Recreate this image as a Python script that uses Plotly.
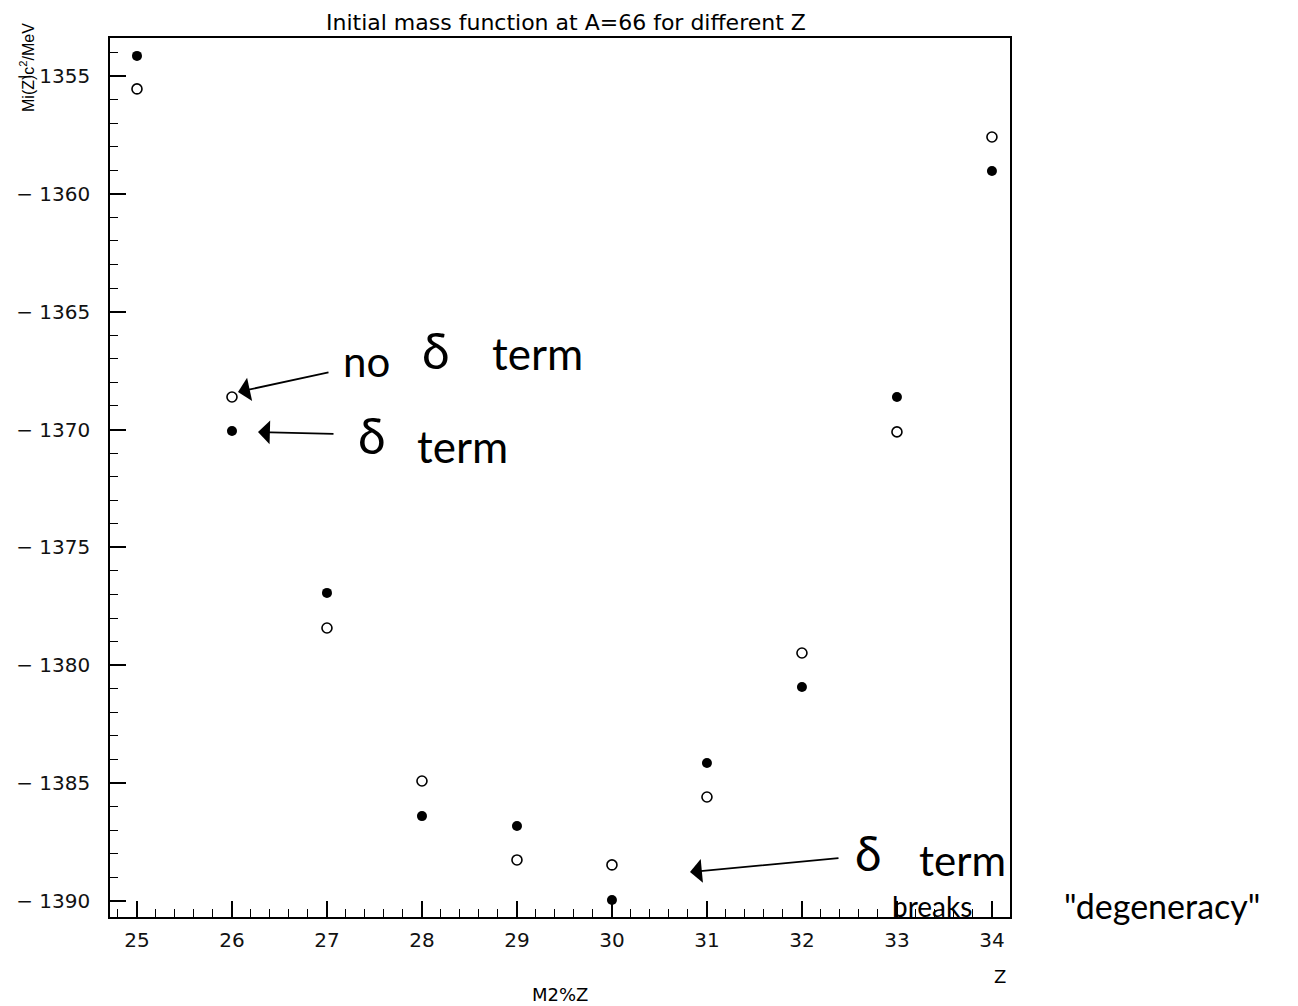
import plotly.graph_objects as go

# ---- data ----
Z = [25, 26, 27, 28, 29, 30, 31, 32, 33, 34]
mass_delta = [-1354.15, -1370.06, -1376.93, -1386.40, -1386.82, -1389.96, -1384.15, -1380.92, -1368.62, -1359.03]
mass_no_delta = [-1355.55, -1368.62, -1378.42, -1384.91, -1388.26, -1388.47, -1385.59, -1379.48, -1370.10, -1357.59]
y_ticks = [-1390, -1385, -1380, -1375, -1370, -1365, -1360, -1355]
x_ticks = [25, 26, 27, 28, 29, 30, 31, 32, 33, 34]

W, H = 1298, 1006
L, R, T, B = 110, 1010, 38, 917

def px(x):
    return (x - L) / (R - L)

def py(y):
    return (B - y) / (B - T)

fig = go.Figure()
fig.add_trace(go.Scatter(x=Z, y=mass_no_delta, mode="markers", name="no delta term",
                         marker=dict(symbol="circle-open", size=10, color="black", line=dict(width=1.6))))
fig.add_trace(go.Scatter(x=Z, y=mass_delta, mode="markers", name="delta term",
                         marker=dict(symbol="circle", size=10, color="black")))

axis_font = dict(family="DejaVu Sans", size=20, color="#111")
fig.update_xaxes(range=[24.716, 34.19], tickvals=x_ticks, ticktext=[str(v) for v in x_ticks],
                 ticks="inside", ticklen=16, tickwidth=1.5, tickcolor="black",
                 minor=dict(dtick=0.2, ticks="inside", ticklen=8, tickcolor="black", tickwidth=1.2),
                 showline=True, linecolor="black", linewidth=1.5, mirror=True,
                 showgrid=False, zeroline=False, tickfont=axis_font, ticklabelstandoff=4)
fig.update_yaxes(range=[-1390.68, -1353.39], tickvals=y_ticks,
                 ticktext=["\u2212 " + str(abs(v)) for v in y_ticks],
                 ticks="inside", ticklen=16, tickwidth=1.5, tickcolor="black",
                 minor=dict(dtick=1, ticks="inside", ticklen=8, tickcolor="black", tickwidth=1.2),
                 showline=True, linecolor="black", linewidth=1.5, mirror=True,
                 showgrid=False, zeroline=False, tickfont=axis_font, ticklabelstandoff=14)

hand = "Lato"
ann = []
def text(x, y, s, size, **kw):
    ann.append(dict(x=px(x), y=py(y), xref="paper", yref="paper", text=s, showarrow=False,
                    font=dict(family=kw.get("family", hand), size=size, color="black"),
                    xanchor="center", yanchor="middle", textangle=kw.get("angle", 0)))

def arrow(x0, y0, x1, y1):
    ann.append(dict(x=px(x1), y=py(y1), xref="paper", yref="paper", ax=x0 - x1, ay=y0 - y1,
                    axref="pixel", ayref="pixel", text="", showarrow=True, arrowhead=1,
                    arrowsize=2.2, arrowwidth=1.8, arrowcolor="black"))

text(566, 22, "Initial mass function at A=66 for different Z", 22, family="DejaVu Sans")
text(27, 68, "Mi(Z)c<sup>2</sup>/MeV", 16, family="Liberation Sans", angle=-90)
text(560, 994, "M2%Z", 18, family="DejaVu Sans")
text(1000, 977, "Z", 18, family="DejaVu Sans")

# handwritten notes
text(366, 361, "no", 42)
text(436, 350, "\u03b4", 50)
text(537, 353, "term", 44)
arrow(330, 372, 238, 392)
text(372, 435, "\u03b4", 50)
text(462, 446, "term", 44)
arrow(335, 434, 258, 432)
text(868, 852, "\u03b4", 48)
text(962, 860, "term", 42)
arrow(840, 858, 690, 872)
text(932, 906, "breaks", 28)
text(1162, 905, "\"degeneracy\"", 34)

fig.update_layout(width=W, height=H, margin=dict(l=L, r=W - R, t=T, b=H - B),
                  plot_bgcolor="white", paper_bgcolor="white", showlegend=False,
                  annotations=ann)
fig.write_html("out.html", config={"displayModeBar": False},
               post_script="document.body.style.margin='0';document.body.style.overflow='hidden';")
